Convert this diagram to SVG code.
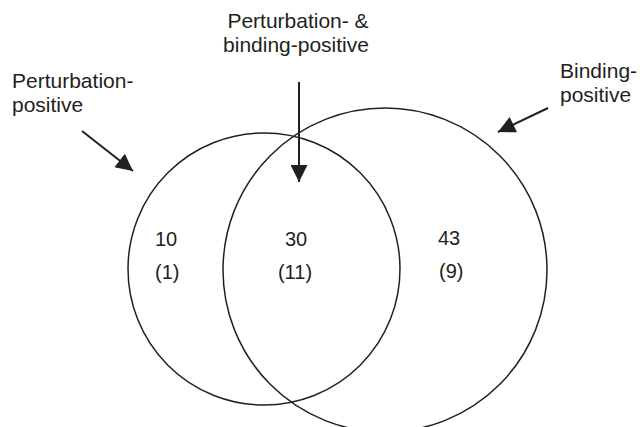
<svg xmlns="http://www.w3.org/2000/svg" width="640" height="427" viewBox="0 0 640 427">
  <defs>
    <marker id="head" viewBox="0 0 10 10" refX="10" refY="5" markerUnits="userSpaceOnUse" markerWidth="18" markerHeight="17" orient="auto">
      <path d="M0,0 L10,5 L0,10 z" fill="#231f20"/>
    </marker>
    <style>
      .set { fill: none; stroke: #231f20; stroke-width: 1.5; }
      .lbl { font-family: "Liberation Sans", Arial, sans-serif; font-size: 21px; fill: #231f20; }
      .num { font-family: "Liberation Sans", Arial, sans-serif; font-size: 20px; fill: #231f20; }
      .arrow { stroke: #231f20; stroke-width: 2; fill: none; marker-end: url(#head); }
    </style>
  </defs>
  <rect width="640" height="427" fill="#ffffff"/>

  <g id="perturbation-set">
    <circle class="set" cx="264" cy="269" r="136"/>
    <text class="num" x="155" y="246">10</text>
    <text class="num" x="155" y="279">(1)</text>
  </g>

  <g id="binding-set">
    <circle class="set" cx="385" cy="270" r="162"/>
    <text class="num" x="438" y="245">43</text>
    <text class="num" x="439" y="278">(9)</text>
  </g>

  <g id="overlap">
    <text class="num" x="296" y="246" text-anchor="middle">30</text>
    <text class="num" x="295" y="279" text-anchor="middle">(11)</text>
  </g>

  <g id="label-perturbation">
    <text class="lbl" x="12" y="88">Perturbation-</text>
    <text class="lbl" x="12" y="112">positive</text>
  </g>

  <g id="label-both">
    <text class="lbl" x="298" y="28" text-anchor="middle">Perturbation- &amp;</text>
    <text class="lbl" x="296" y="52" text-anchor="middle">binding-positive</text>
  </g>

  <g id="label-binding">
    <text class="lbl" x="560" y="78">Binding-</text>
    <text class="lbl" x="560" y="102">positive</text>
  </g>

  <g id="connectors">
    <line class="arrow" x1="82" y1="131" x2="133" y2="171"/>
    <line class="arrow" x1="299" y1="82" x2="299" y2="182"/>
    <line class="arrow" x1="548" y1="108" x2="498" y2="132"/>
  </g>
</svg>
